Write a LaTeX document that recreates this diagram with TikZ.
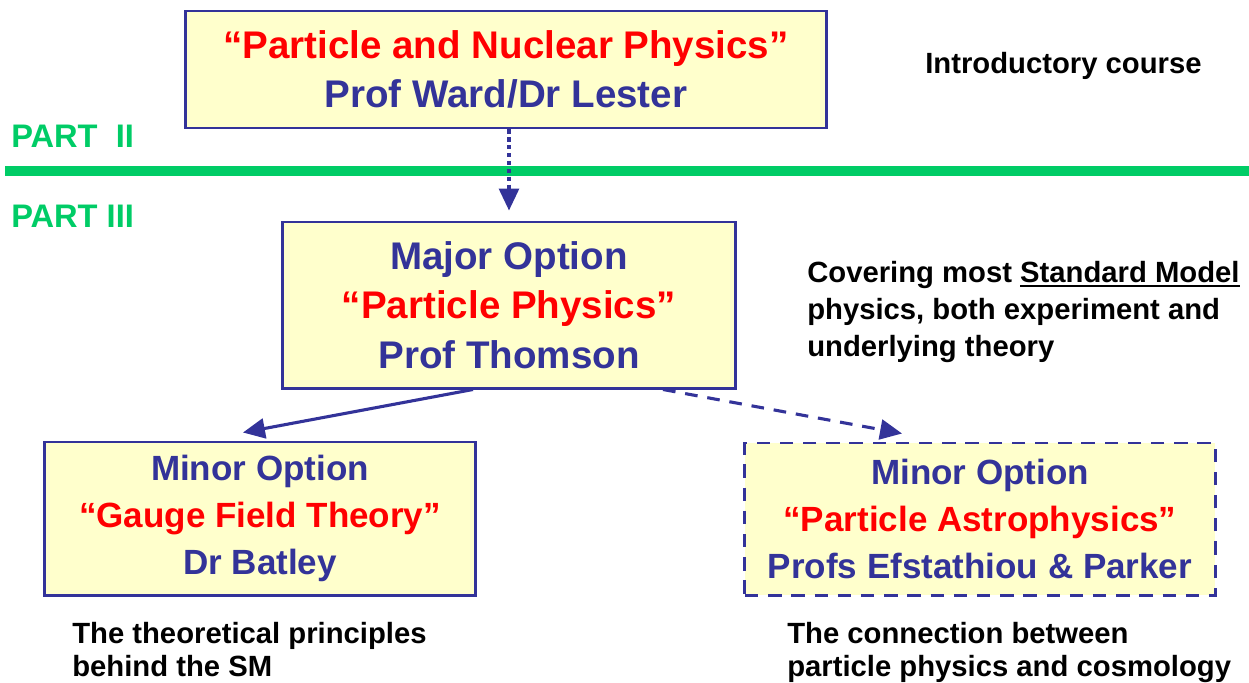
\documentclass[tikz,border=0pt]{standalone}
\usepackage{fontspec}
\setsansfont{Liberation Sans}
\usetikzlibrary{arrows.meta,calc}
\definecolor{navy}{HTML}{333399}
\definecolor{title}{HTML}{FF0000}
\definecolor{paper}{HTML}{FFFFCC}
\definecolor{partline}{HTML}{00CC66}
% underline with a heavier rule
\newcommand{\thickul}[1]{\setbox0\hbox{#1}\rlap{\rule[-3.2pt]{\wd0}{1.4pt}}\box0}

\begin{document}
\begin{tikzpicture}[
  x=0.025cm, y=-0.025cm,
  font=\sffamily\bfseries,
  course/.style={draw=navy, fill=paper, line width=2.1pt, text=navy, align=center, inner sep=0pt},
  big/.style={font=\sffamily\bfseries\fontsize{27.4}{35.3}\selectfont},
  small/.style={font=\sffamily\bfseries\fontsize{24.9}{33.4}\selectfont},
  note/.style={font=\sffamily\bfseries\fontsize{20.8}{23.3}\selectfont, text=black, align=left, anchor=base west, inner sep=0pt},
  part/.style={font=\sffamily\bfseries\fontsize{23.2}{26}\selectfont, text=partline, anchor=base west, inner sep=0pt},
  link/.style={-{Triangle[length=15.6pt, width=14.2pt]}, line width=2.2pt, draw=navy},
]
\useasboundingbox (0,0) rectangle (1249,683);

% ---------- Part II / Part III ----------
\draw[partline, line width=7.1pt] (5,171) -- (1249,171);
\node[part] (p2) at (11,147) {PART\ \ II};
\node[part] (p3) at (11,227) {PART III};

% ---------- Courses ----------
\node[course, big, minimum width=16cm, minimum height=2.925cm] (intro) at (506,69.5)
  {\textcolor{title}{“Particle and Nuclear Physics”}\\Prof Ward/Dr Lester};
\node[course, big, minimum width=11.3cm, minimum height=4.15cm] (major) at (509,305)
  {Major Option\\\textcolor{title}{“Particle Physics”}\\Prof Thomson};
\node[course, small, minimum width=10.75cm, minimum height=3.825cm] (gauge) at (260,518.5)
  {Minor Option\\\textcolor{title}{“Gauge Field Theory”}\\Dr Batley};
\node[course, small, dash pattern=on 9.5pt off 7pt, minimum width=11.75cm, minimum height=3.8cm] (astro) at (980,519)
  {Minor Option\\\textcolor{title}{“Particle Astrophysics”}\\Profs Efstathiou \& Parker};

% ---------- Notes ----------
\node[note] (introtxt) at (925,73) {Introductory course};
\node[note, font=\sffamily\bfseries\fontsize{20.8}{26}\selectfont] (majortxt) at (807,356)
  {Covering most \thickul{Standard Model}\\physics, both experiment and\\underlying theory};
\node[note] (gaugetxt) at (72,676) {The theoretical principles\\behind the SM};
\node[note] (astrotxt) at (787,676) {The connection between\\particle physics and cosmology};

% ---------- Arrows ----------
\draw[link, dash pattern=on 3pt off 2.6pt] (intro.south -| major.north) -- ($(major.north)+(0,-10)$);
\draw[link] ($(major.south)+(-36,0)$) -- ($(gauge.north)+(-17,-8)$);
\draw[link, dash pattern=on 9pt off 7pt] ($(major.south)+(154,0)$) -- ($(astro.north)+(-78,-8)$);

\end{tikzpicture}
\end{document}
